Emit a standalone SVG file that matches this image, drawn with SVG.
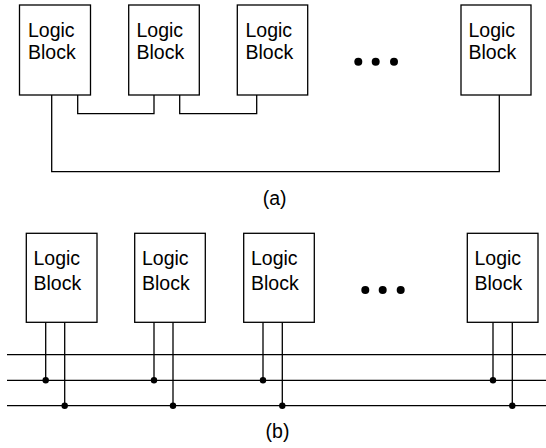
<svg xmlns="http://www.w3.org/2000/svg" width="546" height="448" viewBox="0 0 546 448">
<style>
.blk{fill:#fff;stroke:#000;stroke-width:1.3}
.t{font-family:"Liberation Sans",Arial,sans-serif;font-size:19.5px;fill:#000}
.w{fill:none;stroke:#000;stroke-width:1.3}
.d{fill:#000}
</style>
<rect width="546" height="448" fill="#fff"/>
<g id="connectors">
<polyline class="w" points="51.7,95 51.7,171.7 499.3,171.7 499.3,95"/>
<polyline class="w" points="77.7,95 77.7,113.7 154,113.7 154,95"/>
<polyline class="w" points="179.7,95 179.7,113.7 256.7,113.7 256.7,95"/>
<line class="w" x1="7" y1="354.7" x2="546" y2="354.7"/>
<line class="w" x1="7" y1="380.3" x2="546" y2="380.3"/>
<line class="w" x1="7" y1="405.7" x2="546" y2="405.7"/>
<line class="w" x1="45.7" y1="322.3" x2="45.7" y2="380.3"/>
<line class="w" x1="64.7" y1="322.3" x2="64.7" y2="405.7"/>
<line class="w" x1="154" y1="322.3" x2="154" y2="380.3"/>
<line class="w" x1="173" y1="322.3" x2="173" y2="405.7"/>
<line class="w" x1="263" y1="322.3" x2="263" y2="380.3"/>
<line class="w" x1="282.3" y1="322.3" x2="282.3" y2="405.7"/>
<line class="w" x1="493" y1="322.3" x2="493" y2="380.3"/>
<line class="w" x1="512.3" y1="322.3" x2="512.3" y2="405.7"/>
<circle class="d" cx="45.7" cy="380.3" r="3.2"/>
<circle class="d" cx="64.7" cy="405.7" r="3.2"/>
<circle class="d" cx="154" cy="380.3" r="3.2"/>
<circle class="d" cx="173" cy="405.7" r="3.2"/>
<circle class="d" cx="263" cy="380.3" r="3.2"/>
<circle class="d" cx="282.3" cy="405.7" r="3.2"/>
<circle class="d" cx="493" cy="380.3" r="3.2"/>
<circle class="d" cx="512.3" cy="405.7" r="3.2"/>
</g>
<g id="a1"><rect class="blk" x="19.5" y="5" width="71" height="90"/><text class="t" x="28" y="36.5">Logic</text><text class="t" x="28" y="58.5">Block</text></g>
<g id="a2"><rect class="blk" x="128.7" y="5" width="70.6" height="90"/><text class="t" x="136.5" y="36.5">Logic</text><text class="t" x="136.5" y="58.5">Block</text></g>
<g id="a3"><rect class="blk" x="237.3" y="5" width="70.4" height="90"/><text class="t" x="245.5" y="36.5">Logic</text><text class="t" x="245.5" y="58.5">Block</text></g>
<g id="a4"><rect class="blk" x="461" y="5" width="70" height="90"/><text class="t" x="468.5" y="36.5">Logic</text><text class="t" x="468.5" y="58.5">Block</text></g>
<g id="a-dots"><circle class="d" cx="358.3" cy="61.7" r="4"/><circle class="d" cx="375.7" cy="61.7" r="4"/><circle class="d" cx="394" cy="61.7" r="4"/></g>
<text class="t" x="274.7" y="204.5" text-anchor="middle">(a)</text>
<g id="b1"><rect class="blk" x="26.3" y="233.3" width="70.7" height="89"/><text class="t" x="33.5" y="264.5">Logic</text><text class="t" x="33.5" y="290">Block</text></g>
<g id="b2"><rect class="blk" x="134.7" y="233.3" width="70.6" height="89"/><text class="t" x="142" y="264.5">Logic</text><text class="t" x="142" y="290">Block</text></g>
<g id="b3"><rect class="blk" x="243.7" y="233.3" width="70.6" height="89"/><text class="t" x="251" y="264.5">Logic</text><text class="t" x="251" y="290">Block</text></g>
<g id="b4"><rect class="blk" x="467.3" y="233.3" width="70.7" height="89"/><text class="t" x="474.5" y="264.5">Logic</text><text class="t" x="474.5" y="290">Block</text></g>
<g id="b-dots"><circle class="d" cx="365.3" cy="290" r="4"/><circle class="d" cx="382.7" cy="290" r="4"/><circle class="d" cx="400.7" cy="290" r="4"/></g>
<text class="t" x="277.5" y="438" text-anchor="middle">(b)</text>
</svg>
